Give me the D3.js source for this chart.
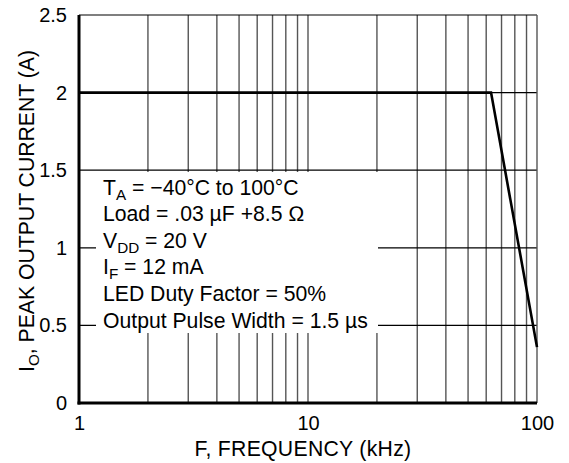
<!DOCTYPE html>
<html>
<head>
<meta charset="utf-8">
<script src="https://cdn.jsdelivr.net/npm/d3@7"></script>
<style>
  html, body { margin: 0; padding: 0; background: #fff; }
  svg { display: block; font-family: "Liberation Sans", Arial, Helvetica, sans-serif; }
</style>
</head>
<body>
<svg id="chart" width="569" height="463"></svg>
<script>
// ---- data ----
const xTickValues = [1, 10, 100];
const xTickLabels = ["1", "10", "100"];
const yTickValues = [0, 0.5, 1, 1.5, 2, 2.5];
const yTickLabels = ["0", "0.5", "1", "1.5", "2", "2.5"];
const gridFreq = [2, 3, 4, 5, 6, 7, 8, 9, 10, 20, 30, 40, 50, 60, 70, 80, 90];
const gridCurrent = [0.5, 1, 1.5, 2];
const curveFreq = [1, 63, 100];
const curveCurrent = [2, 2, 0.36];
const noteMain = ["T", "Load = .03 \u00b5F +8.5 \u2126", "V", "I", "LED Duty Factor = 50%", "Output Pulse Width = 1.5 \u00b5s"];
const noteSub  = ["A", "", "DD", "F", "", ""];
const noteRest = [" = \u221240\u00b0C to 100\u00b0C", "", " = 20 V", " = 12 mA", "", ""];
const xTitle = "F, FREQUENCY (kHz)";
const yTitleMain = "I";
const yTitleSub = "O";
const yTitleRest = ", PEAK OUTPUT CURRENT (A)";

// ---- layout ----
const svg = d3.select("#chart");
const pLeft = 79, pRight = 537, pTop = 15, pBottom = 403;
const x = d3.scaleLog().domain([1, 100]).range([pLeft, pRight]);
const y = d3.scaleLinear().domain([0, 2.5]).range([pBottom, pTop]);
const FS = 20;

// vertical grid
svg.append("g").selectAll("line").data(gridFreq).join("line")
  .attr("x1", d => x(d)).attr("x2", d => x(d))
  .attr("y1", pTop).attr("y2", pBottom)
  .attr("stroke", "#555").attr("stroke-width", 1.4);

// horizontal grid
svg.append("g").selectAll("line").data(gridCurrent).join("line")
  .attr("x1", pLeft).attr("x2", pRight)
  .attr("y1", d => y(d)).attr("y2", d => y(d))
  .attr("stroke", "#000").attr("stroke-width", 1.2);

// frame top & right
svg.append("line").attr("x1", pLeft).attr("x2", pRight).attr("y1", y(2.5)).attr("y2", y(2.5))
  .attr("stroke", "#000").attr("stroke-width", 1.2);
svg.append("line").attr("x1", x(100)).attr("x2", x(100)).attr("y1", pTop).attr("y2", pBottom)
  .attr("stroke", "#555").attr("stroke-width", 1.4);

// annotation box (white background)
svg.append("rect").attr("x", 96).attr("y", 172).attr("width", 282).attr("height", 161).attr("fill", "#fff");

// curve
const line = d3.line().x((d, i) => x(curveFreq[i])).y(d => y(d));
svg.append("path").datum(curveCurrent).attr("d", line)
  .attr("fill", "none").attr("stroke", "#000").attr("stroke-width", 2.6)
  .attr("stroke-linejoin", "miter");

// axes
const xAxis = d3.axisBottom(x).tickValues(xTickValues)
  .tickFormat((d, i) => xTickLabels[i]).tickSize(0).tickPadding(13);
const gx = svg.append("g").attr("transform", `translate(0,${pBottom})`).call(xAxis);
gx.select(".domain").remove();
gx.selectAll("text").attr("font-size", FS).attr("font-family", "Liberation Sans, Arial, sans-serif").attr("fill", "#000");

const yAxis = d3.axisLeft(y).tickValues(yTickValues)
  .tickFormat((d, i) => yTickLabels[i]).tickSize(0).tickPadding(12);
const gy = svg.append("g").attr("transform", `translate(${pLeft},0)`).call(yAxis);
gy.select(".domain").remove();
gy.selectAll("text").attr("font-size", FS).attr("font-family", "Liberation Sans, Arial, sans-serif").attr("fill", "#000");

// thick left & bottom axis lines
svg.append("line").attr("x1", pLeft).attr("x2", pLeft).attr("y1", pTop).attr("y2", pBottom + 1.5)
  .attr("stroke", "#000").attr("stroke-width", 3);
svg.append("line").attr("x1", pLeft - 1.5).attr("x2", pRight).attr("y1", pBottom).attr("y2", pBottom)
  .attr("stroke", "#000").attr("stroke-width", 3);

// annotation text
const NFS = 21.2;
const notes = svg.append("g").attr("font-size", NFS).attr("fill", "#000");
noteMain.forEach((m, i) => {
  const t = notes.append("text").attr("x", 103).attr("y", 194.5 + i * 26.6);
  t.append("tspan").text(m);
  if (noteSub[i]) {
    t.append("tspan").attr("font-size", NFS * 0.72).attr("dy", 5).text(noteSub[i]);
    t.append("tspan").attr("dy", -5).text(noteRest[i]);
  }
});

// axis titles
svg.append("text").attr("x", 303).attr("y", 456)
  .attr("text-anchor", "middle").attr("font-size", 21.2).attr("letter-spacing", 0.3)
  .attr("fill", "#000").text(xTitle);

const YFS = 21.2;
const yt = svg.append("text").attr("transform", "translate(34,211) rotate(-90)")
  .attr("text-anchor", "middle").attr("font-size", YFS).attr("fill", "#000");
yt.append("tspan").text(yTitleMain);
yt.append("tspan").attr("font-size", YFS * 0.72).attr("dy", 5).text(yTitleSub);
yt.append("tspan").attr("dy", -5).text(yTitleRest);
</script>
</body>
</html>
